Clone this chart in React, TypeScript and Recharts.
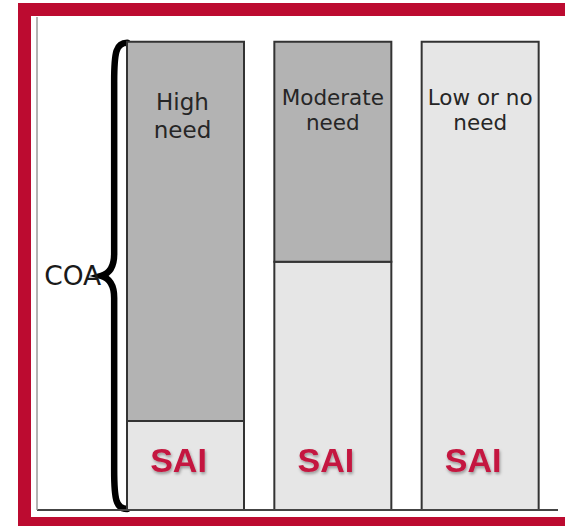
import { BarChart, Bar, XAxis, YAxis, ReferenceArea, LabelList } from 'recharts';

const categories = ['High need', 'Moderate need', 'Low or no need'];
const labelLines = [
  ['High', 'need'],
  ['Moderate', 'need'],
  ['Low or no', 'need'],
];
// share of the cost of attendance, in percent
const saiValues = [19, 53, 100];
const needValues = [81, 47, 0];
const saiLabel = 'SAI';
const coaLabel = 'COA';

const data = categories.map((name, i) => ({
  name,
  sai: saiValues[i],
  need: needValues[i],
}));

const W = 565;
const H = 526;
const BAR_W = 117;
const SANS = '"DejaVu Sans", Verdana, sans-serif';
const ARIAL = '"Liberation Sans", Arial, sans-serif';

function Brace(props: any) {
  const { x, y, width, height } = props;
  const r = x + (width - BAR_W) / 2; // left edge of the first bar
  const t = y;
  const b = y + height;
  const m = y + height / 2;
  const v = r - 13;
  const d =
    `M ${r} ${t + 1} C ${v + 2} ${t + 1} ${v} ${t + 10} ${v} ${t + 40} ` +
    `L ${v} ${m - 22} C ${v} ${m - 8} ${v - 6} ${m - 2} ${v - 13} ${m} ` +
    `C ${v - 6} ${m + 2} ${v} ${m + 8} ${v} ${m + 22} ` +
    `L ${v} ${b - 40} C ${v} ${b - 10} ${v + 2} ${b - 1} ${r} ${b - 1}`;
  return (
    <g>
      <path d={d} fill="none" stroke="#000" strokeWidth={6.5} strokeLinecap="round" />
      <text x={v - 13} y={m + 9} textAnchor="end" fontSize={26.5} fontFamily={SANS} fill="#1a1a1a">
        {coaLabel}
      </text>
    </g>
  );
}

// two-line label near the top of a bar; y is the top of the stack
function topText(index: number, x: number, y: number, width: number) {
  const lines = labelLines[index];
  const big = index === 0;
  const fs = big ? 23 : 21.5;
  const first = big ? 68 : 63;
  const gap = big ? 28 : 25;
  const cx = x + width / 2 + (big ? -3 : 0);
  return (
    <text textAnchor="middle" fontSize={fs} fontFamily={SANS} fill="#262626">
      {lines.map((l, k) => (
        <tspan key={k} x={cx} y={y + first + k * gap}>
          {l}
        </tspan>
      ))}
    </text>
  );
}

function NeedLabel(props: any) {
  const { x, y, width, index } = props;
  if (!needValues[index]) return null;
  return topText(index, x, y, width);
}

function SaiLabel(props: any) {
  const { x, y, width, height, index } = props;
  return (
    <g>
      {!needValues[index] && topText(index, x, y, width)}
      <text
        x={x + width / 2 - 7}
        y={y + height - 38}
        textAnchor="middle"
        fontSize={34}
        fontWeight="bold"
        fontFamily={ARIAL}
        fill="#c4173f"
        filter="url(#saiShadow)"
      >
        {saiLabel}
      </text>
    </g>
  );
}

export default function App() {
  return (
    <div style={{ position: 'absolute', left: 0, top: 0, width: W, height: H, overflow: 'hidden', background: '#fff' }}>
      <div
        style={{
          position: 'absolute',
          left: 18,
          top: 3,
          width: 620,
          height: 527,
          border: '13px solid #bc0b30',
          boxSizing: 'border-box',
        }}
      />
      <div style={{ position: 'absolute', left: 0, top: 0 }}>
        <BarChart width={W} height={H} data={data} margin={{ top: 17, right: 7, bottom: 15, left: 0 }}>
          <defs>
            <filter id="saiShadow" x="-20%" y="-20%" width="140%" height="160%">
              <feDropShadow dx="1" dy="2" stdDeviation="1.5" floodColor="#000" floodOpacity="0.35" />
            </filter>
          </defs>
          <XAxis
            dataKey="name"
            tick={false}
            tickLine={false}
            height={1}
            padding={{ left: 75, right: 4 }}
            axisLine={{ stroke: '#444', strokeWidth: 2 }}
          />
          <YAxis
            width={37}
            domain={[0, 105.3]}
            tick={false}
            tickLine={false}
            axisLine={{ stroke: '#9a9a9a', strokeWidth: 1.5 }}
          />
          <Bar dataKey="sai" stackId="a" barSize={BAR_W} fill="#e6e6e6" stroke="#333" strokeWidth={2} isAnimationActive={false}>
            <LabelList content={<SaiLabel />} />
          </Bar>
          <Bar dataKey="need" stackId="a" barSize={BAR_W} fill="#b3b3b3" stroke="#333" strokeWidth={2} isAnimationActive={false}>
            <LabelList content={<NeedLabel />} />
          </Bar>
          <ReferenceArea
            x1={categories[0]}
            x2={categories[0]}
            y1={0}
            y2={saiValues[0] + needValues[0]}
            fill="none"
            stroke="none"
            shape={<Brace />}
          />
        </BarChart>
      </div>
    </div>
  );
}
